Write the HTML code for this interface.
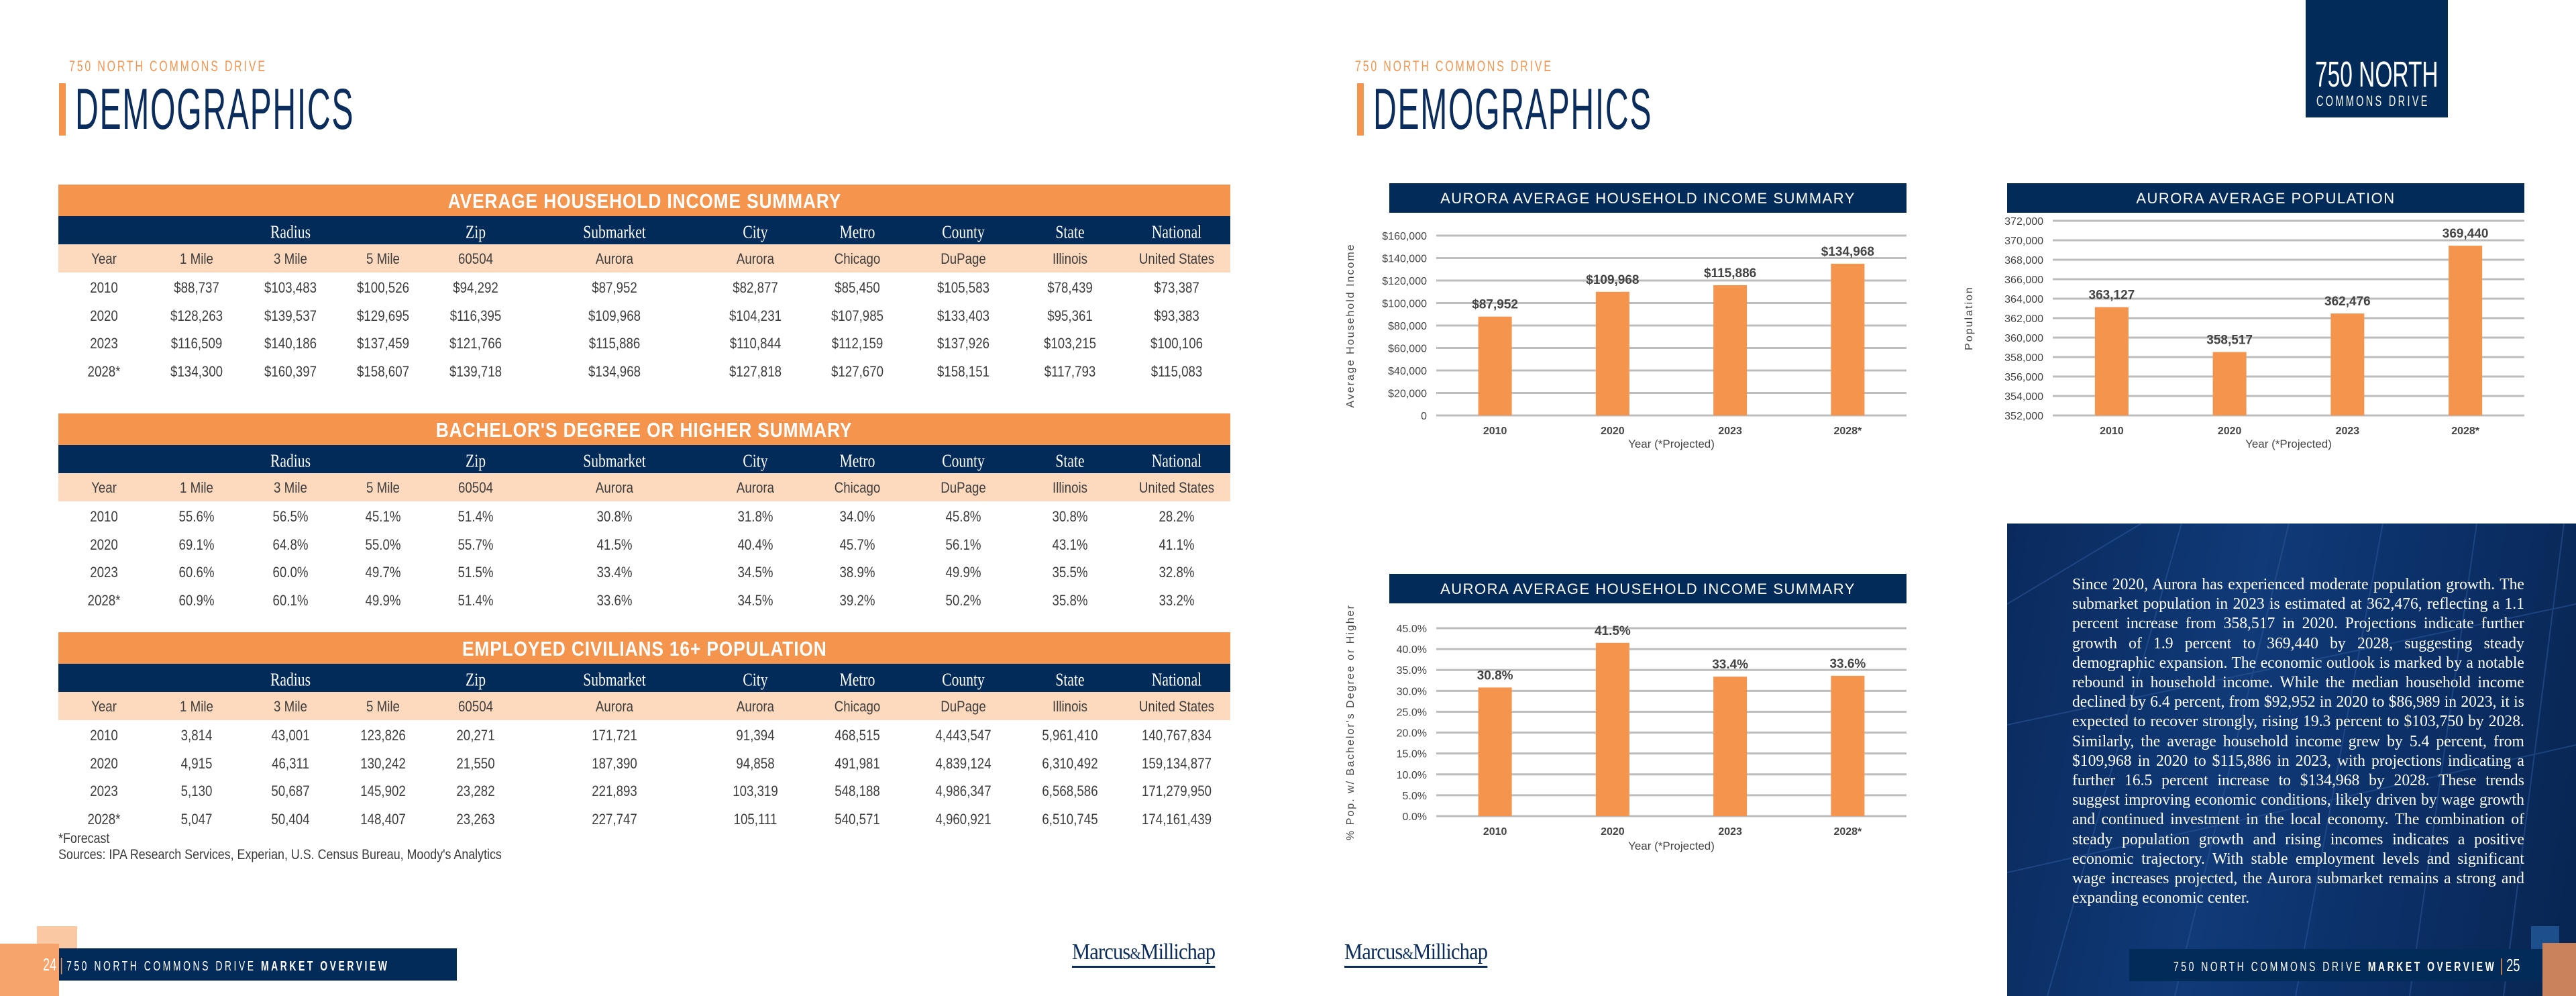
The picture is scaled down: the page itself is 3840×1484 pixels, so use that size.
<!DOCTYPE html>
<html><head><meta charset="utf-8">
<style>
*{margin:0;padding:0;box-sizing:border-box}
body{width:3840px;height:1484px;background:#fff;position:relative;overflow:hidden;font-family:"Liberation Sans",sans-serif;color:#3a3a3a}
.abs{position:absolute;white-space:nowrap}
.kicker{color:#f5944d;font-size:22px;letter-spacing:4px;transform:scaleX(0.72);transform-origin:left top}
.title{color:#0b2d5e;font-size:86px;transform:scaleX(0.56);transform-origin:left top;letter-spacing:3px;line-height:86px}
.obar{background:#f5944d}
.nbar{background:#022b5a}
.pbar{background:#fdd9be}
.tt{color:#fff;font-weight:bold;font-size:31px;text-align:center;letter-spacing:1px}
.cell{position:absolute;transform:translate(-50%,-50%) scaleX(0.85);white-space:nowrap;font-size:22px;color:#3d3d3d}
.hcell{position:absolute;transform:translate(-50%,-50%) scaleX(0.8);white-space:nowrap;font-size:27px;color:#fff;font-family:"Liberation Serif",serif}
.para{color:#fff;font-family:"Liberation Serif",serif;font-size:24.6px;line-height:29.2px;text-align:justify;white-space:normal}
</style></head><body>

<!-- LEFT PAGE -->
<div class="abs kicker" style="left:103px;top:86px">750 NORTH COMMONS DRIVE</div>
<div class="abs obar" style="left:88px;top:124px;width:10px;height:78px"></div>
<div class="abs title" style="left:112px;top:120px">DEMOGRAPHICS</div>

<div id="tables"></div>

<div class="abs" style="left:87px;top:1238px;font-size:21px;transform:scaleX(0.85);transform-origin:left top">*Forecast</div>
<div class="abs" style="left:87px;top:1262px;font-size:21px;transform:scaleX(0.85);transform-origin:left top">Sources: IPA Research Services, Experian, U.S. Census Bureau, Moody's Analytics</div>

<div class="abs" style="left:55px;top:1380px;width:60px;height:34px;background:#fac9a3"></div>
<div class="abs nbar" style="left:51px;top:1413px;width:630px;height:48px"></div>
<div class="abs" style="left:0;top:1406px;width:88px;height:78px;background:#f7a46c"></div>
<div class="abs" style="left:64px;top:1420px;color:#fff;font-size:26px;line-height:34px;transform:scaleX(0.7);transform-origin:left top">24 <span style="color:#f5944d">|</span> <span style="font-size:20px;letter-spacing:5px">750 NORTH COMMONS DRIVE <b>MARKET OVERVIEW</b></span></div>
<div class="abs" style="left:1598px;top:1402px;color:#0b2d5e;font-family:'Liberation Serif',serif;font-size:34px;border-bottom:3px solid #0b2d5e;line-height:34px;letter-spacing:-1px;transform:scaleX(0.9);transform-origin:left top">Marcus<span style="font-size:24px">&amp;</span>Millichap</div>

<!-- RIGHT PAGE -->
<div class="abs kicker" style="left:2020px;top:86px">750 NORTH COMMONS DRIVE</div>
<div class="abs obar" style="left:2023px;top:124px;width:10px;height:78px"></div>
<div class="abs title" style="left:2047px;top:120px">DEMOGRAPHICS</div>

<div class="abs nbar" style="left:3437px;top:0;width:212px;height:175px">
  <div style="position:absolute;left:14px;top:84px;color:#fff;font-size:54px;line-height:54px;white-space:nowrap;transform:scaleX(0.62);transform-origin:left top">750 NORTH</div>
  <div style="position:absolute;left:16px;top:138px;color:#fff;font-size:22px;letter-spacing:5px;white-space:nowrap;transform:scaleX(0.66);transform-origin:left top">COMMONS DRIVE</div>
</div>

<svg class="abs" style="left:0;top:0" width="3840" height="1484" id="charts"></svg>

<!-- text panel -->
<div class="abs" style="left:2992px;top:780px;width:848px;height:704px;background:linear-gradient(100deg,#0a2a5c 0%,#103a78 40%,#0b2f66 70%,#082551 100%);overflow:hidden">
  <svg width="848" height="704" style="position:absolute;left:0;top:0">
    <g stroke="#2a5496" stroke-width="2" opacity="0.6">
      <line x1="0" y1="120" x2="200" y2="0"/><line x1="60" y1="704" x2="260" y2="0"/><line x1="250" y1="704" x2="420" y2="0"/>
      <line x1="430" y1="704" x2="560" y2="0"/><line x1="600" y1="704" x2="700" y2="0"/><line x1="740" y1="704" x2="830" y2="0"/>
      <line x1="0" y1="300" x2="848" y2="120"/><line x1="0" y1="520" x2="848" y2="330"/>
    </g>
  </svg>
  <div class="para" style="position:absolute;left:97px;top:76px;width:702px;transform:scaleX(0.96);transform-origin:left top">Since 2020, Aurora has experienced moderate population growth. The submarket population in 2023 is estimated at 362,476, reflecting a 1.1 percent increase from 358,517 in 2020. Projections indicate further growth of 1.9 percent to 369,440 by 2028, suggesting steady demographic expansion. The economic outlook is marked by a notable rebound in household income. While the median household income declined by 6.4 percent, from $92,952 in 2020 to $86,989 in 2023, it is expected to recover strongly, rising 19.3 percent to $103,750 by 2028. Similarly, the average household income grew by 5.4 percent, from $109,968 in 2020 to $115,886 in 2023, with projections indicating a further 16.5 percent increase to $134,968 by 2028. These trends suggest improving economic conditions, likely driven by wage growth and continued investment in the local economy. The combination of steady population growth and rising incomes indicates a positive economic trajectory. With stable employment levels and significant wage increases projected, the Aurora submarket remains a strong and expanding economic center.</div>
</div>
<div class="abs" style="left:3773px;top:1380px;width:42px;height:34px;background:#1d4f8c"></div>
<div class="abs nbar" style="left:3174px;top:1414px;width:633px;height:48px"></div>
<div class="abs" style="left:3790px;top:1405px;width:50px;height:79px;background:#c9825a"></div>
<div class="abs" style="left:3240px;top:1421px;color:#fff;font-size:26px;line-height:34px;transform:scaleX(0.7);transform-origin:left top"><span style="font-size:20px;letter-spacing:5px">750 NORTH COMMONS DRIVE <b>MARKET OVERVIEW</b></span> <span style="color:#f5944d">|</span> 25</div>
<div class="abs" style="left:2004px;top:1402px;color:#0b2d5e;font-family:'Liberation Serif',serif;font-size:34px;border-bottom:3px solid #0b2d5e;line-height:34px;letter-spacing:-1px;transform:scaleX(0.9);transform-origin:left top">Marcus<span style="font-size:24px">&amp;</span>Millichap</div>

<script>
// ---------- TABLE DATA ----------
var colHeads = ["", "", "Radius", "", "Zip", "Submarket", "City", "Metro", "County", "State", "National"];
var subHeads = ["Year", "1 Mile", "3 Mile", "5 Mile", "60504", "Aurora", "Aurora", "Chicago", "DuPage", "Illinois", "United States"];
var incomeRows = [
 ["2010","$88,737","$103,483","$100,526","$94,292","$87,952","$82,877","$85,450","$105,583","$78,439","$73,387"],
 ["2020","$128,263","$139,537","$129,695","$116,395","$109,968","$104,231","$107,985","$133,403","$95,361","$93,383"],
 ["2023","$116,509","$140,186","$137,459","$121,766","$115,886","$110,844","$112,159","$137,926","$103,215","$100,106"],
 ["2028*","$134,300","$160,397","$158,607","$139,718","$134,968","$127,818","$127,670","$158,151","$117,793","$115,083"]];
var degreeRows = [
 ["2010","55.6%","56.5%","45.1%","51.4%","30.8%","31.8%","34.0%","45.8%","30.8%","28.2%"],
 ["2020","69.1%","64.8%","55.0%","55.7%","41.5%","40.4%","45.7%","56.1%","43.1%","41.1%"],
 ["2023","60.6%","60.0%","49.7%","51.5%","33.4%","34.5%","38.9%","49.9%","35.5%","32.8%"],
 ["2028*","60.9%","60.1%","49.9%","51.4%","33.6%","34.5%","39.2%","50.2%","35.8%","33.2%"]];
var employedRows = [
 ["2010","3,814","43,001","123,826","20,271","171,721","91,394","468,515","4,443,547","5,961,410","140,767,834"],
 ["2020","4,915","46,311","130,242","21,550","187,390","94,858","491,981","4,839,124","6,310,492","159,134,877"],
 ["2023","5,130","50,687","145,902","23,282","221,893","103,319","548,188","4,986,347","6,568,586","171,279,950"],
 ["2028*","5,047","50,404","148,407","23,263","227,747","105,111","540,571","4,960,921","6,510,745","174,161,439"]];
var colX = [155,293,433,571,709,916,1126,1278,1436,1595,1754];

function mk(tag, cls, style){var e=document.createElement(tag);if(cls)e.className=cls;if(style)e.style.cssText=style;document.body.appendChild(e);return e;}

function buildTable(title, rows, top, key){
  var o = mk('div','abs obar tt','left:87px;top:'+top+'px;width:1747px;height:47px;line-height:50px');
  
  
  var ot = document.createElement('span');
  ot.style.cssText = 'display:inline-block;transform:scaleX(0.85)';
  ot.textContent = title;
  
  
  o.appendChild(ot);
  var n = mk('div','abs nbar','left:87px;top:'+(top+47)+'px;width:1747px;height:42px');
  
  
  var p = mk('div','abs pbar','left:87px;top:'+(top+89)+'px;width:1747px;height:42px');
  
  
  for (var i=0;i<colX.length;i++){
    if (colHeads[i]) {
      var h = mk('div','hcell','left:'+colX[i]+'px;top:'+(top+71)+'px');
      h.textContent = colHeads[i];
      
      
    }
    var s = mk('div','cell','left:'+colX[i]+'px;top:'+(top+111)+'px');
    s.textContent = subHeads[i];
    
    
  }
  for (var r=0;r<rows.length;r++){
    for (var c=0;c<rows[r].length;c++){
      var d = mk('div','cell','left:'+colX[c]+'px;top:'+(top+154+r*41.7)+'px');
      d.textContent = rows[r][c];
      
      
    }
  }
}
buildTable("AVERAGE HOUSEHOLD INCOME SUMMARY", incomeRows, 275, 'income-table');
buildTable("BACHELOR'S DEGREE OR HIGHER SUMMARY", degreeRows, 616, 'degree-table');
buildTable("EMPLOYED CIVILIANS 16+ POPULATION", employedRows, 942, 'employed-table');

// ---------- CHART DATA ----------
var years = ["2010","2020","2023","2028*"];
var incomeVals = [87952, 109968, 115886, 134968];
var incomeTicks = [0,20000,40000,60000,80000,100000,120000,140000,160000];
var popVals = [363127, 358517, 362476, 369440];
var popTicks = [352000,354000,356000,358000,360000,362000,364000,366000,368000,370000,372000];
var degreeVals = [30.8, 41.5, 33.4, 33.6];
var degreeTicks = [0,5,10,15,20,25,30,35,40,45];

var svg = document.getElementById('charts');
var NS = 'http://www.w3.org/2000/svg';
function se(tag, attrs, parent){var e=document.createElementNS(NS,tag);for(var k in attrs)e.setAttribute(k,attrs[k]);(parent||svg).appendChild(e);return e;}

function chart(cfg){
  var g = se('g',{});
  
  
  var tb = se('rect',{x:cfg.bx0,y:cfg.ty,width:cfg.bx1-cfg.bx0,height:44,fill:'#022b5a'},g);
  
  
  var tt = se('text',{x:(cfg.bx0+cfg.bx1)/2,y:cfg.ty+30,fill:'#fff','font-size':22,'text-anchor':'middle','font-family':'Liberation Sans, sans-serif','letter-spacing':'1.5'},g);
  tt.textContent = cfg.title;
  
  
  var tmin = cfg.ticks[0], tmax = cfg.ticks[cfg.ticks.length-1];
  function y(v){return cfg.y0 - (v-tmin)/(tmax-tmin)*(cfg.y0-cfg.y1);}
  var step = (cfg.px1-cfg.px0)/cfg.cats.length;
  function x(i){return cfg.px0 + step*(i+0.5);}
  cfg.ticks.forEach(function(t){
    var gl = se('line',{x1:cfg.px0,x2:cfg.px1,y1:y(t),y2:y(t),stroke:'#bdbdbd','stroke-width':3},g);
    
    
    var tl = se('text',{x:cfg.px0-14,y:y(t)+6,'font-size':16,'text-anchor':'end',fill:'#444','font-family':'Liberation Sans, sans-serif'},g);
    tl.textContent = cfg.fmt(t);
    
    
  });
  cfg.vals.forEach(function(v,i){
    var b = se('rect',{x:x(i)-25,y:y(v),width:50,height:cfg.y0-y(v),fill:'#f5944d'},g);
    
    
    var vl = se('text',{x:x(i),y:y(v)-12,'font-size':19,'font-weight':'bold','text-anchor':'middle',fill:'#444','font-family':'Liberation Sans, sans-serif'},g);
    vl.textContent = cfg.vfmt(v);
    
    
    var xl = se('text',{x:x(i),y:cfg.y0+28,'font-size':16,'font-weight':'bold','text-anchor':'middle',fill:'#444','font-family':'Liberation Sans, sans-serif'},g);
    xl.textContent = cfg.cats[i];
    
    
  });
  var xt = se('text',{x:(cfg.px0+cfg.px1)/2,y:cfg.y0+cfg.xtOff,'font-size':17,'text-anchor':'middle',fill:'#444','font-family':'Liberation Sans, sans-serif'},g);
  xt.textContent = 'Year (*Projected)';
  
  
  var ym = (cfg.y0+cfg.y1)/2;
  var yt = se('text',{x:cfg.ytx,y:ym,'font-size':16,'text-anchor':'middle',fill:'#444','letter-spacing':'2','font-family':'Liberation Sans, sans-serif',transform:'rotate(-90 '+cfg.ytx+' '+ym+')'},g);
  yt.textContent = cfg.ytitle;
  
  
}
function money(v){return v===0?'0':'$'+v.toLocaleString('en-US');}
chart({key:'income-chart',title:'AURORA AVERAGE HOUSEHOLD INCOME SUMMARY',bx0:2071,bx1:2842,ty:273,px0:2141,px1:2842,y0:619,y1:351,
  ticks:incomeTicks,vals:incomeVals,cats:years,fmt:money,vfmt:money,xtOff:48,ytx:2018,ytitle:'Average Household Income'});
chart({key:'population-chart',title:'AURORA AVERAGE POPULATION',bx0:2992,bx1:3763,ty:273,px0:3060,px1:3763,y0:619,y1:329,
  ticks:popTicks,vals:popVals,cats:years,fmt:function(v){return v.toLocaleString('en-US');},vfmt:function(v){return v.toLocaleString('en-US');},xtOff:48,ytx:2940,ytitle:'Population'});
chart({key:'degree-chart',title:'AURORA AVERAGE HOUSEHOLD INCOME SUMMARY',bx0:2071,bx1:2842,ty:855,px0:2141,px1:2842,y0:1216,y1:936,
  ticks:degreeTicks,vals:degreeVals,cats:years,fmt:function(v){return v.toFixed(1)+'%';},vfmt:function(v){return v.toFixed(1)+'%';},xtOff:50,ytx:2018,ytitle:"% Pop. w/ Bachelor's Degree or Higher"});
</script>
</body></html>
